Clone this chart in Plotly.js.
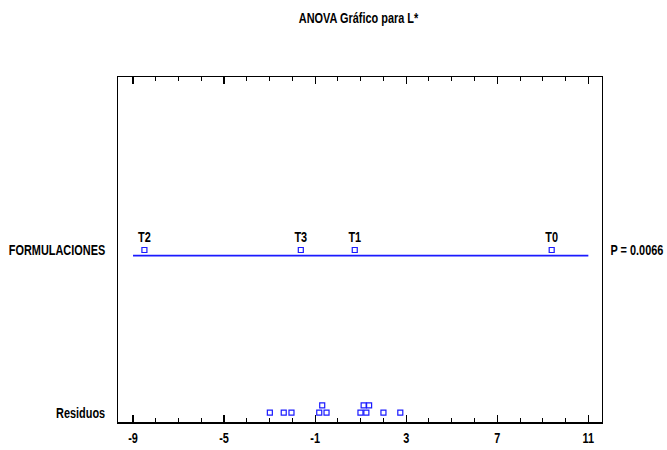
<!DOCTYPE html>
<html>
<head>
<meta charset="utf-8">
<script src="https://cdn.plot.ly/plotly-3.0.1.min.js"></script>
<style>html,body{margin:0;padding:0;background:#fff;}#chart{width:667px;height:450px;}</style>
</head>
<body>
<div id="chart"></div>
<script>
// ---- data ----
const treatments = ["T2", "T3", "T1", "T0"];
const treatmentEffects = [-8.5, -1.63, 0.74, 9.39];
const residuals = [-2.99, -2.38, -2.04, -0.82, -0.69, -0.50, 0.99, 1.13, 1.25, 1.37, 2.0, 2.74];
const rowLabels = ["Residuos", "FORMULACIONES"];
const pValueText = "P = 0.0066";
const xTickVals = [-9, -5, -1, 3, 7, 11];

// ---- layout constants ----
const FONT = "'Liberation Sans', Arial, sans-serif";
const FS = 14;
const CONDENSE = 0.78;
const BLUE = "#1a1aff";
const rowY = [0, 1];
const stackStep = 0.045;
const lineOffset = -0.035;
const stackGap = 0.22;

// dot-plot stacking of residuals
const levels = [];
const lastAt = [];
const order = residuals.map((v, i) => i).sort((a, b) => residuals[a] - residuals[b]);
order.forEach(i => {
  const v = residuals[i];
  let lv = 0;
  while (lastAt[lv] !== undefined && v - lastAt[lv] < stackGap) lv++;
  lastAt[lv] = v;
  levels[i] = lv;
});

const boldFont = {family: FONT, size: FS, color: "#000", weight: "bold"};

const traces = [
  {
    x: treatmentEffects,
    y: treatmentEffects.map(() => rowY[1]),
    mode: "markers+text",
    text: treatments,
    textposition: "top center",
    textfont: boldFont,
    marker: {symbol: "square-open", size: 5, color: BLUE, line: {width: 1.2, color: BLUE}},
    hoverinfo: "x+text",
    showlegend: false,
    cliponaxis: false
  },
  {
    x: residuals,
    y: residuals.map((v, i) => rowY[0] + levels[i] * stackStep),
    mode: "markers",
    marker: {symbol: "square-open", size: 5, color: BLUE, line: {width: 1.2, color: BLUE}},
    hoverinfo: "x",
    showlegend: false,
    cliponaxis: false
  }
];

const layout = {
  width: 667,
  height: 450,
  margin: {l: 118, r: 65, t: 77, b: 28},
  paper_bgcolor: "#fff",
  plot_bgcolor: "#fff",
  font: {family: FONT, color: "#000"},
  title: {
    text: "ANOVA Gráfico para L*",
    font: boldFont,
    x: 0.5375, xanchor: "center", y: 0.959, yanchor: "middle"
  },
  xaxis: {
    range: [-9.66, 11.6],
    tickvals: xTickVals,
    ticktext: xTickVals.map(String),
    ticks: "inside",
    ticklen: 7,
    tickwidth: 1.2,
    tickcolor: "#000",
    showline: true,
    linecolor: "#000",
    linewidth: 1.5,
    mirror: "allticks",
    showgrid: false,
    zeroline: false,
    minor: {dtick: 1, tick0: -9, ticks: "inside", ticklen: 4, tickcolor: "#000", tickwidth: 1, showgrid: false},
    tickfont: boldFont,
    ticklabelstandoff: 3,
    fixedrange: true
  },
  yaxis: {
    range: [-0.057, 2.063],
    tickvals: rowY,
    ticktext: rowLabels,
    ticks: "",
    showline: true,
    linecolor: "#000",
    linewidth: 1,
    mirror: true,
    showgrid: false,
    zeroline: false,
    tickfont: boldFont,
    ticklabelstandoff: 9,
    fixedrange: true
  },
  shapes: [
    {type: "line", xref: "x", yref: "y", x0: xTickVals[0], x1: xTickVals[xTickVals.length - 1],
     y0: rowY[1] + lineOffset, y1: rowY[1] + lineOffset, line: {color: BLUE, width: 1.8}, layer: "below"}
  ],
  annotations: [
    {text: pValueText, xref: "paper", yref: "y", x: 1, y: rowY[1], xanchor: "left", yanchor: "middle",
     xshift: -1, showarrow: false, font: boldFont}
  ]
};

// horizontally condense every text around its own anchor point (emulates a narrow bold face)
function condense(gd) {
  gd.querySelectorAll("svg text").forEach(t => {
    if (t.dataset.condensed) return;
    const x = parseFloat(t.getAttribute("x")) || 0;
    const prev = t.getAttribute("transform") || "";
    t.setAttribute("transform", prev + " translate(" + x + ",0) scale(" + CONDENSE + ",1) translate(" + (-x) + ",0)");
    t.dataset.condensed = "1";
  });
}

Plotly.newPlot("chart", traces, layout, {displayModeBar: false, staticPlot: true}).then(gd => condense(gd));
</script>
</body>
</html>
